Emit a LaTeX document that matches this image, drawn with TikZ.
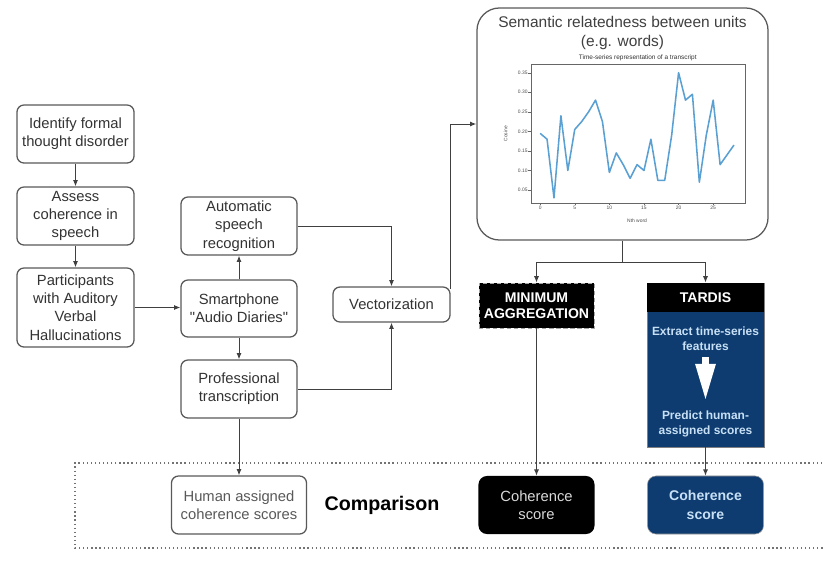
\documentclass[tikz,border=0pt]{standalone}
\usepackage{fontspec}
\setmainfont{Liberation Sans}[Ligatures=TeXOff]
\usetikzlibrary{arrows.meta}
\definecolor{tardisblue}{RGB}{14,60,112}
\definecolor{paleblue}{RGB}{200,224,245}
\definecolor{plotblue}{RGB}{90,160,210}
\tikzset{
  stepbox/.style={draw=black!65, line width=0.9pt, rounded corners=5pt, fill=white, align=center, text=black!80, inner sep=1pt, font=\fontsize{10.5}{13}\selectfont},
  flowarrow/.style={draw=black!75, line width=0.7pt, -{Latex[length=4.5pt,width=3.6pt]}},
  ticklabel/.style={font=\fontsize{3.5}{4}\selectfont, text=black!70, inner sep=0.5pt},
  scorebox/.style={rounded corners=6pt, minimum width=2.9cm, minimum height=1.45cm, align=center},
}
\begin{document}
\begin{tikzpicture}[x=0.025cm, y=-0.025cm]
\useasboundingbox (0,0) rectangle (823,579);
\draw[black!55, line width=0.9pt, dotted] (826,463) -- (75,463) -- (75,548) -- (826,548);
\node[stepbox, minimum width=2.925cm, minimum height=1.45cm] (ident) at (75.5,134) {Identify formal\\thought disorder};
\node[stepbox, minimum width=2.925cm, minimum height=1.45cm] (assess) at (75.5,216) {Assess\\coherence in\\speech};
\node[stepbox, minimum width=2.925cm, minimum height=1.975cm] (particip) at (75.5,307.5) {Participants\\with Auditory\\Verbal\\Hallucinations};
\node[stepbox, minimum width=2.9cm, minimum height=1.45cm] (asr) at (239,226) {Automatic\\speech\\recognition};
\node[stepbox, minimum width=2.9cm, minimum height=1.425cm] (phone) at (239,308.5) {Smartphone\\"Audio Diaries"};
\node[stepbox, minimum width=2.9cm, minimum height=1.45cm] (transcr) at (239,389) {Professional\\transcription};
\node[stepbox, minimum width=2.925cm, minimum height=0.875cm] (vector) at (391.5,304.5) {Vectorization};
\node[stepbox, minimum width=7.275cm, minimum height=5.8cm, rounded corners=16pt] (semantic) at (622.5,124) {};
\node[font=\fontsize{11}{14}\selectfont, text=black!75, align=center] (semtitle) at (622.5,33) {Semantic relatedness between units\\(e.g. words)};
\begin{scope}[shift={(13.5cm,-5.239cm)}, x=0.173cm, y=9.775cm]
\draw[black!60, line width=0.4pt] (-1.34,0.0168) rectangle (29.6,0.372);
\foreach \v in {0.05,0.10,0.15,0.20,0.25,0.30,0.35}
  \draw[black!60, line width=0.3pt] (-1.34,\v) -- ++(-0.35,0) node[ticklabel, anchor=east] {\v};
\foreach \t in {0,5,...,25}
  \draw[black!60, line width=0.3pt] (\t,0.0168) -- ++(0,-0.006) node[ticklabel, anchor=north] {\t};
\node[ticklabel, rotate=90] at (-5,0.194) {Cosine};
\node[ticklabel] at (14,-0.028) {Nth word};
\node[font=\fontsize{4.6}{5}\selectfont, text=black!80] at (14.1,0.389) {Time-series representation of a transcript};
\draw[plotblue, line width=1.1pt, line join=round] plot coordinates {(0,0.195) (1,0.18) (2,0.03) (3,0.24) (4,0.10) (5,0.205) (6,0.225) (7,0.25) (8,0.28) (9,0.225) (10,0.095) (11,0.145) (12,0.115) (13,0.08) (14,0.115) (15,0.10) (16,0.18) (17,0.075) (18,0.075) (19,0.19) (20,0.35) (21,0.28) (22,0.295) (23,0.07) (24,0.19) (25,0.28) (26,0.115) (27,0.14) (28,0.165)};
\end{scope}
\node[minimum width=2.875cm, minimum height=1.125cm, fill=black, draw=black!35, densely dashed, line width=0.6pt, text=white, font=\bfseries\fontsize{10}{11.5}\selectfont, align=center, inner sep=0pt] (minagg) at (536.5,305.5) {MINIMUM\\AGGREGATION};
\node[fill=tardisblue, draw=black!50, line width=0.6pt, minimum width=2.925cm, minimum height=4.1cm] (tardis) at (705.5,365) {};
\fill[black] ([xshift=0.5pt,yshift=-0.5pt]tardis.north west) rectangle ([xshift=-0.5pt]tardis.east |- 0,312);
\node[text=white, font=\bfseries\fontsize{10}{12}\selectfont] (tardistitle) at (705.5,298) {TARDIS};
\node[text=paleblue, font=\bfseries\fontsize{8.5}{10.5}\selectfont, align=center] (extract) at (705.5,339) {Extract time-series\\features};
\node[text=paleblue, font=\bfseries\fontsize{8.5}{10.5}\selectfont, align=center] (predict) at (705.5,424) {Predict human-\\assigned scores};
\draw[white, line width=5.4pt, -{Triangle[length=27pt,width=13pt]}] ([yshift=-1pt]extract.south) -- ([yshift=3pt]predict.north);
\node[stepbox, minimum width=3.375cm, minimum height=1.45cm, text=black!65] (human) at (239,505) {Human assigned\\coherence scores};
\node[font=\bfseries\fontsize{14}{16}\selectfont] (compar) at (382,505) {Comparison};
\node[scorebox, fill=black, text=white!85!black, font=\fontsize{10.5}{13}\selectfont] (minscore) at (536.5,505) {Coherence\\score};
\node[scorebox, fill=tardisblue, draw=black!40, text=paleblue, font=\bfseries\fontsize{10}{13}\selectfont] (tardscore) at (705.5,505) {Coherence\\score};
\draw[flowarrow] (ident) -- (assess);
\draw[flowarrow] (assess) -- (particip);
\draw[flowarrow] (particip.east) -- (particip.east -| phone.west);
\draw[flowarrow] (phone) -- (asr);
\draw[flowarrow] (phone) -- (transcr);
\draw[flowarrow] (asr.east) -| (vector.north);
\draw[flowarrow] (transcr.east) -| (vector.south);
\draw[flowarrow] ([yshift=-2pt]vector.north east) |- (semantic.west);
\coordinate (fork) at (semantic.south |- 0,262);
\draw[black!75, line width=0.7pt] (semantic.south) -- (fork);
\draw[flowarrow] (fork) -| (minagg.north);
\draw[flowarrow] (fork) -| (tardis.north);
\draw[flowarrow] (minagg) -- (minscore);
\draw[flowarrow] (tardis) -- (tardscore);
\draw[flowarrow] (transcr) -- (human);
\end{tikzpicture}
\end{document}
